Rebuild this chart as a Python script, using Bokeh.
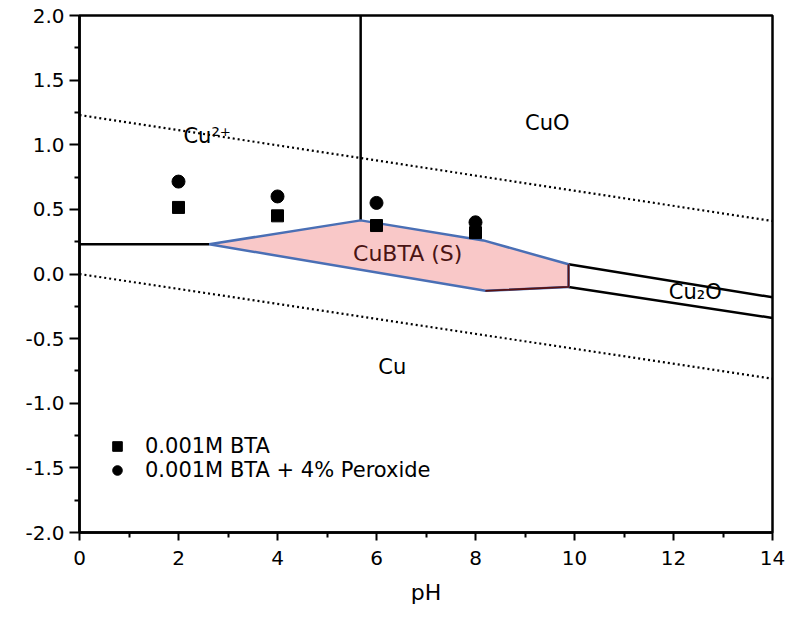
import numpy as np
from bokeh.plotting import figure
from bokeh.models import Range1d, Label, Legend, LegendItem, FixedTicker
from bokeh.embed import file_html
from bokeh.resources import INLINE

# ---------------- data ----------------
ph_points = [2, 4, 6, 8]
e_bta = [0.515, 0.45, 0.375, 0.32]            # 0.001M BTA
e_bta_perox = [0.715, 0.60, 0.55, 0.40]       # 0.001M BTA + 4% Peroxide

# water stability lines (dotted)
o2_ph = [0, 14]
o2_e = [1.23, 0.41]
h2_ph = [0, 14]
h2_e = [0.0, -0.81]

# phase boundaries (solid)
cu_cu2_ph = [0, 2.62]
cu_cu2_e = [0.23, 0.23]
cu2_cuo_ph = [5.68, 5.68]
cu2_cuo_e = [2.0, 0.415]
cuo_cu2o_ph = [9.88, 14]
cuo_cu2o_e = [0.075, -0.18]
cu2o_cu_ph = [9.88, 14]
cu2o_cu_e = [-0.10, -0.34]

# CuBTA (S) stability region
cubta_ph = [2.62, 5.68, 8.16, 9.88, 9.88, 8.2]
cubta_e = [0.23, 0.415, 0.26, 0.075, -0.10, -0.13]

x_ticks = [0, 2, 4, 6, 8, 10, 12, 14]
x_minor = [1, 3, 5, 7, 9, 11, 13]
y_ticks = [-2.0, -1.5, -1.0, -0.5, 0.0, 0.5, 1.0, 1.5, 2.0]
y_tick_labels = ["-2.0", "-1.5", "-1.0", "-0.5", "0.0", "0.5", "1.0", "1.5", "2.0"]
y_minor = [-1.75, -1.25, -0.75, -0.25, 0.25, 0.75, 1.25, 1.75]

FONT = "DejaVu Sans"

p = figure(width=786, height=621, output_backend="svg", toolbar_location=None,
           x_range=Range1d(0, 14), y_range=Range1d(-2, 2),
           min_border_left=79, min_border_right=14, min_border_top=15, min_border_bottom=89)
p.background_fill_color = "white"
p.border_fill_color = "white"
p.xgrid.grid_line_color = None
p.ygrid.grid_line_color = None
p.outline_line_color = "black"
p.outline_line_width = 2.5
p.outline_line_alpha = 1.0

# axes
p.xaxis.ticker = FixedTicker(ticks=x_ticks, minor_ticks=x_minor)
p.yaxis.ticker = FixedTicker(ticks=y_ticks, minor_ticks=y_minor)
p.yaxis.major_label_overrides = {t: s for t, s in zip(y_ticks, y_tick_labels)}
for ax in (p.xaxis, p.yaxis):
    ax.axis_line_width = 2.5
    ax.axis_line_color = "black"
    ax.major_tick_line_width = 2
    ax.minor_tick_line_width = 2
    ax.major_tick_in = 0
    ax.minor_tick_in = 0
    ax.major_label_text_font = FONT
    ax.major_label_text_font_size = "20px"
    ax.major_label_text_color = "black"
p.yaxis.major_tick_out = 10
p.yaxis.minor_tick_out = 5
p.yaxis.major_label_standoff = 5
p.xaxis.major_tick_out = 8
p.xaxis.minor_tick_out = 5
p.xaxis.major_label_standoff = 10
p.xaxis.axis_label = "pH"
p.xaxis.axis_label_text_font = FONT
p.xaxis.axis_label_text_font_size = "22px"
p.xaxis.axis_label_text_font_style = "normal"
p.xaxis.axis_label_text_color = "black"
p.xaxis.axis_label_standoff = 12

# dotted water lines
p.line(o2_ph, o2_e, line_color="black", line_width=2.2, line_dash="2 3")
p.line(h2_ph, h2_e, line_color="black", line_width=2.2, line_dash="2 3")

# solid boundaries
for xs, ys in [(cu_cu2_ph, cu_cu2_e), (cu2_cuo_ph, cu2_cuo_e),
               (cuo_cu2o_ph, cuo_cu2o_e), (cu2o_cu_ph, cu2o_cu_e)]:
    p.line(xs, ys, line_color="black", line_width=2.5)

# CuBTA region
p.patch(cubta_ph, cubta_e, fill_color="#f9c8c8", fill_alpha=1.0,
        line_color="#4a6fb5", line_width=2.5)
# dark maroon inner edge on the right side
p.line(cubta_ph[3:], cubta_e[3:], line_color="#5a1212", line_width=1.8)

# data points
r_sq = p.scatter(ph_points, e_bta, marker="square", size=12,
                 fill_color="black", line_color="black")
r_ci = p.scatter(ph_points, e_bta_perox, marker="circle", size=13,
                 fill_color="black", line_color="black")

legend = Legend(items=[LegendItem(label="0.001M BTA", renderers=[r_sq]),
                       LegendItem(label="0.001M BTA + 4% Peroxide", renderers=[r_ci])],
                location=(26, 50), border_line_color=None, background_fill_alpha=0,
                label_text_font=FONT, label_text_font_size="21px",
                label_text_color="black",
                label_standoff=16, glyph_width=24, glyph_height=24,
                label_height=22, spacing=0, padding=8)
p.add_layout(legend)

# region labels
def lab(x, y, text, size="21px", color="black", align="center"):
    p.add_layout(Label(x=x, y=y, text=text, text_font=FONT, text_font_size=size,
                       text_color=color, text_align=align, text_baseline="middle"))

lab(2.1, 1.07, "Cu²⁺", align="left")
lab(9.45, 1.17, "CuO")
lab(6.32, -0.72, "Cu")
lab(12.44, -0.14, "Cu₂O")
lab(6.63, 0.16, "CuBTA (S)", size="22px", color="#4a1414")

open("out.html", "w").write(file_html(p, INLINE))
